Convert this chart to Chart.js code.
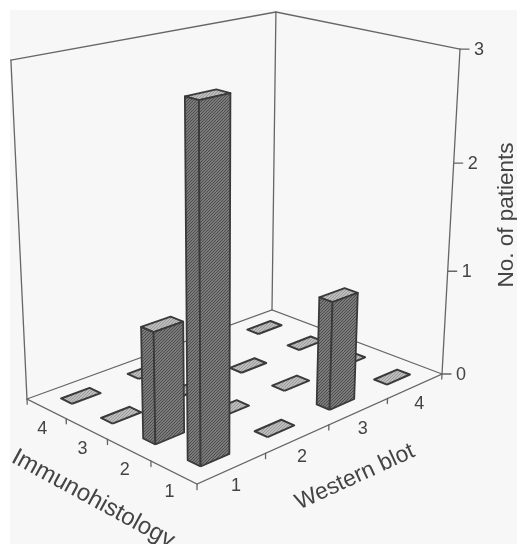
<!DOCTYPE html>
<html><head><meta charset="utf-8">
<style>html,body{margin:0;padding:0;background:#fff}canvas{display:block}</style>
<script src="https://cdn.jsdelivr.net/npm/chart.js@4"></script>
</head><body><canvas id="c" width="517" height="544"></canvas>
<script>
const westernBlot = ['1','2','3','4'];
const immunohistology = ['1','2','3','4'];
const zTicks = [0,1,2,3];
const patientsW1 = [3,1,0,0];
const patientsW2 = [0,0,0,0];
const patientsW3 = [1,0,0,0];
const patientsW4 = [0,0,0,0];
const patients = [patientsW1,patientsW2,patientsW3,patientsW4];

const floorF=[197,484],floorR=[442,374],floorB=[272,310],floorL=[27,399],vanish=[218,4418],backTopY=12;
function homography(p0,p1,p2,p3){
  const dx1=p1[0]-p2[0],dx2=p3[0]-p2[0],sx=p0[0]-p1[0]+p2[0]-p3[0];
  const dy1=p1[1]-p2[1],dy2=p3[1]-p2[1],sy=p0[1]-p1[1]+p2[1]-p3[1];
  const den=dx1*dy2-dx2*dy1,g=(sx*dy2-dx2*sy)/den,h=(dx1*sy-sx*dy1)/den;
  return {a:p1[0]-p0[0]+g*p1[0],b:p3[0]-p0[0]+h*p3[0],c:p0[0],d:p1[1]-p0[1]+g*p1[1],e:p3[1]-p0[1]+h*p3[1],f:p0[1],g,h};
}
const H=homography(floorF,floorR,floorB,floorL);
const backW=H.g+H.h+1, backY=H.d+H.e+H.f;
const zUnit=((backTopY*backW-backY)/(vanish[1]-backTopY))/zTicks[zTicks.length-1];
function P(u,v,z){
  const s=u/westernBlot.length,r=v/immunohistology.length,t=zUnit*z;
  const w=H.g*s+H.h*r+1+t;
  return {x:(H.a*s+H.b*r+H.c+t*vanish[0])/w,y:(H.d*s+H.e*r+H.f+t*vanish[1])/w};
}
function pattern(c1,c2){
  const p=document.createElement('canvas');p.width=p.height=3;const g=p.getContext('2d');
  g.fillStyle=c1;g.fillRect(0,0,3,3);g.fillStyle=c2;
  for(let i=0;i<3;i++)g.fillRect(i,(2-i),1,1);
  return document.getElementById('c').getContext('2d').createPattern(p,'repeat');
}
const darkFill=pattern('#7a7a7a','#4e4e4e'),lightFill=pattern('#bdbdbd','#9a9a9a');
const ink='#3a3a3a',axisInk='#666';
const datasets=[];
function line(pts,color,width){datasets.push({data:pts,showLine:true,fill:false,borderColor:color||axisInk,borderWidth:width||1.3,pointRadius:0,tension:0,borderCapStyle:'round'});}
function poly(pts,fill,width){datasets.push({data:pts.concat([pts[0]]),showLine:true,fill:'shape',backgroundColor:fill,borderColor:ink,borderWidth:width,pointRadius:0,tension:0,borderJoinStyle:'round'});}
const nW=westernBlot.length,nI=immunohistology.length,zMax=zTicks[zTicks.length-1];
// walls and floor
line([P(0,nI,zMax),P(0,nI,0),P(0,0,0),P(nW,0,0),P(nW,0,zMax)]);
line([P(0,nI,0),P(nW,nI,0),P(nW,0,0)]);
line([P(nW,nI,0),P(nW,nI,zMax)]);
line([P(0,nI,zMax),P(nW,nI,zMax),P(nW,0,zMax)]);
// tick marks
const drop=-0.05;
for(let i=0;i<=nW;i++)line([P(i,0,0),P(i,0,drop)]);
for(let j=1;j<=nI;j++)line([P(0,j,0),P(0,j,drop)]);
for(const z of zTicks){const p=P(nW,0,z);line([p,{x:p.x+9,y:p.y}]);}
// bars, back to front
const halfU=0.21,halfV=0.14,cells=[];
patients.forEach((col,i)=>col.forEach((val,j)=>cells.push({i,j,val})));
cells.sort((a,b)=>(b.i+b.j)-(a.i+a.j));
for(const c of cells){
  const u0=c.i+.5-halfU,u1=c.i+.5+halfU,v0=c.j+.5-halfV,v1=c.j+.5+halfV;
  if(c.val===0){poly([P(u0,v0,0),P(u1,v0,0),P(u1,v1,0),P(u0,v1,0)],lightFill,2);continue;}
  const z=c.val;
  poly([P(u0,v0,z),P(u1,v0,z),P(u1,v1,z),P(u0,v1,z)],lightFill,1.8);
  poly([P(u0,v0,0),P(u0,v1,0),P(u0,v1,z),P(u0,v0,z)],darkFill,1.8);
  poly([P(u0,v0,0),P(u1,v0,0),P(u1,v0,z),P(u0,v0,z)],darkFill,1.8);
}
datasets.forEach((d,k)=>d.order=datasets.length-k);

const textPlugin={id:'labels',
  beforeDraw(ch){const g=ch.ctx;g.save();g.fillStyle='#fff';g.fillRect(0,0,517,544);g.fillStyle='#f7f7f7';g.fillRect(10,10,507,534);g.restore();},
  afterDraw(ch){
  const g=ch.ctx,sx=ch.scales.x,sy=ch.scales.y;
  const put=(t,x,y,size,rot)=>{g.save();g.translate(sx.getPixelForValue(x),sy.getPixelForValue(y));g.rotate((rot||0)*Math.PI/180);g.font=size+'px "Liberation Sans"';g.fillStyle='#444';g.textAlign='center';g.textBaseline='middle';g.fillText(t,0,0);g.restore();};
  westernBlot.forEach((t,i)=>{const p=P(i+.5,0,0);put(t,p.x+4,p.y+18,18);});
  immunohistology.forEach((t,j)=>{const p=P(0,j+.5,0);put(t,p.x-4,p.y+20,18);});
  zTicks.forEach(z=>{const p=P(nW,0,z);put(String(z),p.x+19,p.y+1,18);});
  put('Western blot',355,477,23,-24.7);
  put('Immunohistology',93,499,24,28.6);
  put('No. of patients',507,215,22.5,-90);
}};
new Chart(document.getElementById('c'),{type:'scatter',data:{datasets},plugins:[textPlugin],options:{
  responsive:false,animation:false,layout:{padding:0},
  plugins:{legend:{display:false},tooltip:{enabled:false}},
  scales:{x:{type:'linear',min:0,max:517,display:false},y:{type:'linear',min:0,max:544,reverse:true,display:false}}
}});
</script></body></html>
